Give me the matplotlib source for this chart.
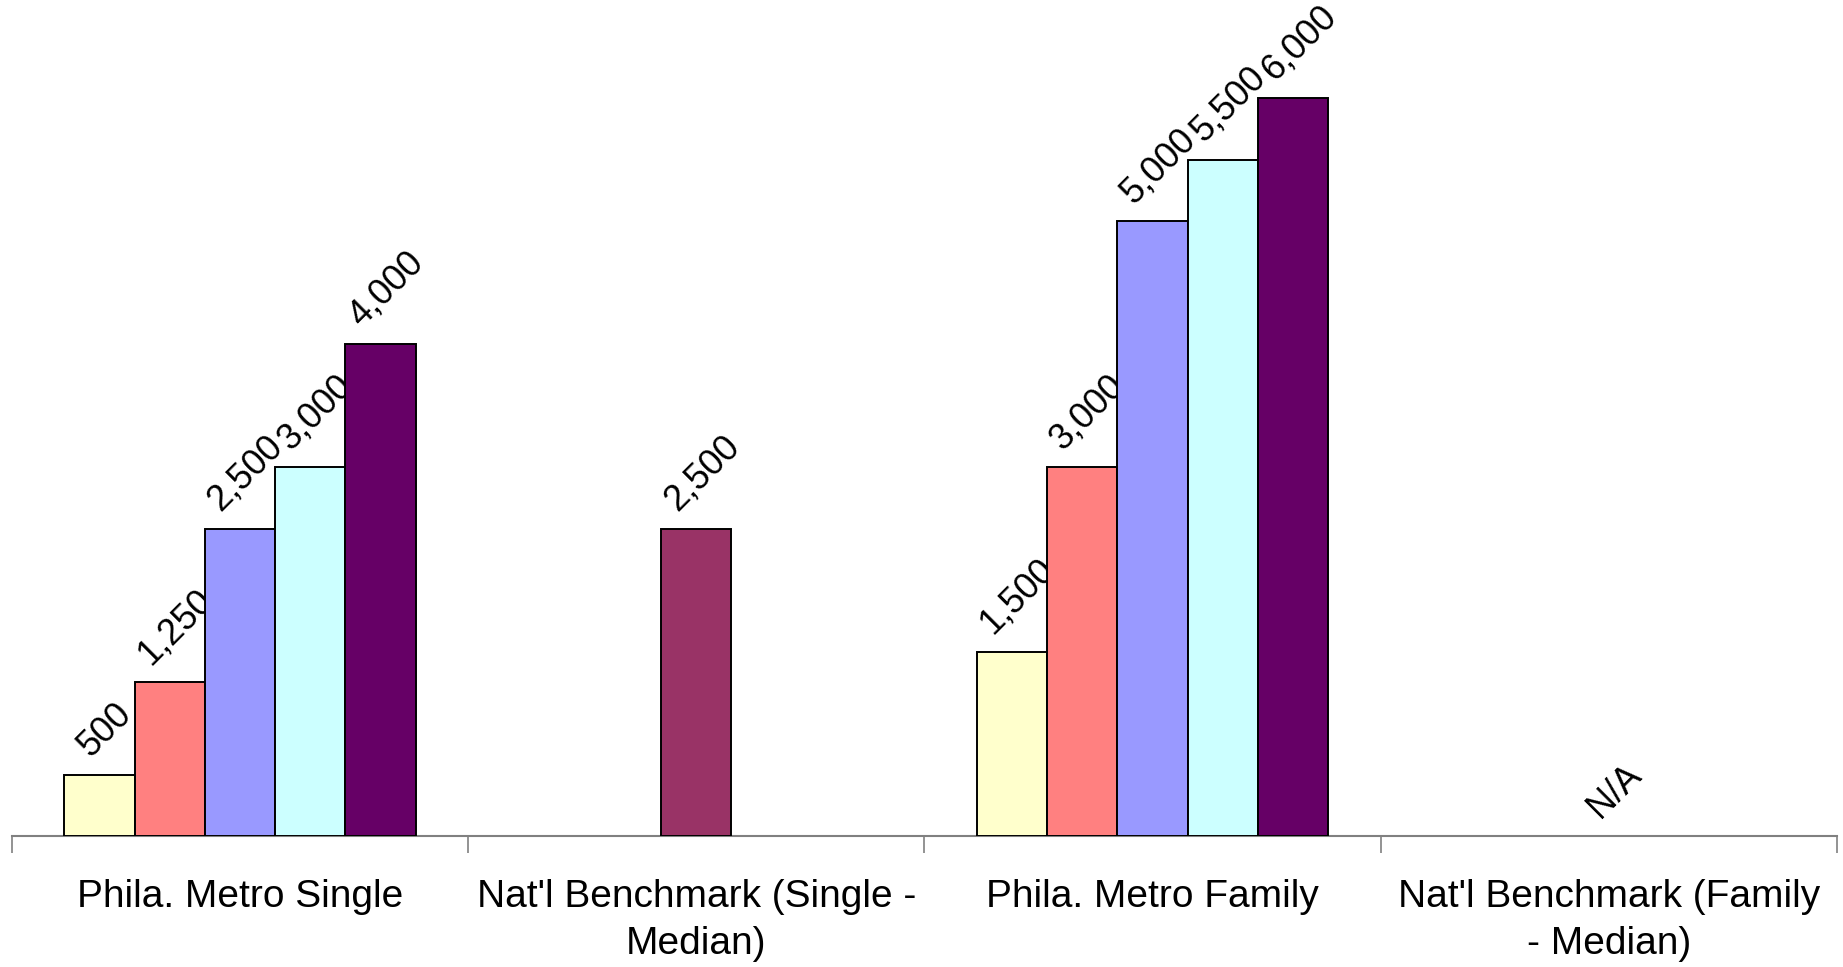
import numpy as np
import matplotlib
matplotlib.use("Agg")
import matplotlib.pyplot as plt
from matplotlib.ticker import FixedLocator

plt.rcParams['font.family'] = ['Liberation Sans', 'DejaVu Sans']

# categories along the x axis
categories = ["Phila. Metro Single", "Nat'l Benchmark (Single -\nMedian)",
              "Phila. Metro Family", "Nat'l Benchmark (Family\n- Median)"]

# metro figures, one bar per tier
metro_single = [500, 1250, 2500, 3000, 4000]
metro_family = [1500, 3000, 5000, 5500, 6000]
tier_colors = ["#FFFFCC", "#FF8080", "#9999FF", "#CCFFFF", "#660066"]

# national benchmarks (None = N/A)
bench_single = 2500
bench_family = None
bench_color = "#993366"

fig = plt.figure(figsize=(18.43, 9.67), dpi=100)
ax = fig.add_axes([0.0065, 0.1355, 0.9902, 0.8645])

w = 0.154
offs = (np.arange(5) - 2) * w
lbl = dict(textcoords="offset points", ha="center", va="bottom",
           rotation=45, fontsize=26)


def fmt(v):
    return "N/A" if v is None else f"{v:,}"


for cat, vals in ((0, metro_single), (2, metro_family)):
    for i, v in enumerate(vals):
        ax.bar(cat + offs[i], v, w, color=tier_colors[i], edgecolor="black",
               linewidth=1.4, zorder=3)
        ax.annotate(fmt(v), (cat + offs[i], v), xytext=(4, 8), **lbl)

for cat, v in ((1, bench_single), (3, bench_family)):
    if v is not None:
        ax.bar(cat, v, w, color=bench_color, edgecolor="black",
               linewidth=1.4, zorder=3)
    ax.annotate(fmt(v), (cat, v or 0), xytext=(4, 8), **lbl)

ax.set_xlim(-0.5, 3.5)
ax.set_ylim(0, 6800)

for s in ("top", "right", "left"):
    ax.spines[s].set_visible(False)
ax.spines["bottom"].set_color("#808080")
ax.spines["bottom"].set_linewidth(1.5)
ax.set_yticks([])

ax.xaxis.set_major_locator(FixedLocator(np.arange(-0.5, 4, 1)))
ax.xaxis.set_minor_locator(FixedLocator(np.arange(4)))
ax.xaxis.set_major_formatter(plt.NullFormatter())
ax.set_xticks(np.arange(4), categories, minor=True)
ax.tick_params(axis="x", which="major", length=12, width=1.2,
               color="#808080", direction="out")
ax.tick_params(axis="x", which="minor", length=0, pad=31, labelsize=28)
for t in ax.get_xticklabels(minor=True):
    t.set_linespacing(1.4)
    t.set_verticalalignment("top")

fig.savefig("out.png", dpi=100)
